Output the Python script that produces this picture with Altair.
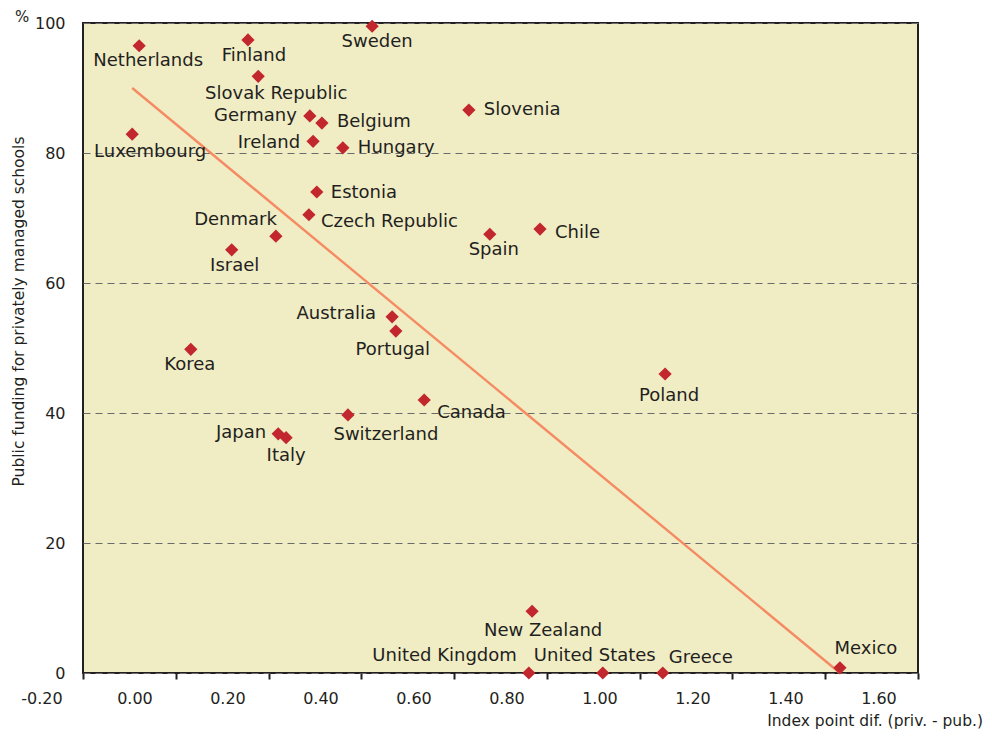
import altair as alt
import pandas as pd

# ---- data ----
countries = ["Netherlands", "Finland", "Sweden", "Slovak Republic", "Germany", "Belgium",
             "Slovenia", "Luxembourg", "Ireland", "Hungary", "Estonia", "Czech Republic",
             "Denmark", "Israel", "Spain", "Chile", "Australia", "Portugal", "Korea",
             "Canada", "Switzerland", "Japan", "Italy", "Poland", "New Zealand",
             "United Kingdom", "United States", "Greece", "Mexico"]
index_diff = [0.009, 0.243, 0.510, 0.265, 0.376, 0.402,
              0.718, -0.006, 0.383, 0.447, 0.391, 0.374,
              0.303, 0.208, 0.763, 0.871, 0.553, 0.561, 0.120,
              0.622, 0.458, 0.308, 0.325, 1.140, 0.854,
              0.847, 1.006, 1.135, 1.516]
public_funding = [96.5, 97.4, 99.5, 91.8, 85.7, 84.6,
                  86.6, 82.9, 81.8, 80.8, 74.0, 70.5,
                  67.2, 65.1, 67.5, 68.3, 54.8, 52.6, 49.8,
                  42.0, 39.7, 36.8, 36.2, 46.0, 9.5,
                  0.0, 0.0, 0.0, 0.8]

trend_x = [-0.006, 1.516]
trend_y = [90.0, 0.0]

x_tick_labels = [-0.2, 0.0, 0.2, 0.4, 0.6, 0.8, 1.0, 1.2, 1.4, 1.6]
y_tick_values = [0, 20, 40, 60, 80, 100]

# label placement (style): align, dx, dy in pixels relative to the marker
label_style = {
    "Netherlands": ("center", 9, 15), "Finland": ("center", 6, 16),
    "Sweden": ("center", 5, 16), "Slovak Republic": ("center", 18, 18),
    "Germany": ("right", -13, 0), "Belgium": ("left", 15, -1),
    "Slovenia": ("left", 15, 0), "Luxembourg": ("center", 18, 18),
    "Ireland": ("right", -13, 2), "Hungary": ("left", 15, 0),
    "Estonia": ("left", 14, 1), "Czech Republic": ("left", 12, 7),
    "Denmark": ("right", 1, -16), "Israel": ("center", 3, 16),
    "Spain": ("center", 4, 16), "Chile": ("left", 15, 4),
    "Australia": ("right", -16, -3), "Portugal": ("center", -3, 19),
    "Korea": ("center", -1, 16), "Canada": ("left", 13, 13),
    "Switzerland": ("center", 38, 20), "Japan": ("right", -12, -1),
    "Italy": ("center", 0, 18), "Poland": ("center", 4, 22),
    "New Zealand": ("center", 11, 20), "United Kingdom": ("right", -12, -17),
    "United States": ("center", -8, -17), "Greece": ("left", 6, -15),
    "Mexico": ("center", 26, -19),
}

FONT = "DejaVu Sans"
TXT = "#231f20"
FS = 18
TICK_FS = 16
TITLE_FS = 15.5
W, H = 835, 650
X_DOMAIN = [-0.1118, 1.6839]
step = (X_DOMAIN[1] - X_DOMAIN[0]) / 9
x_tick_positions = [X_DOMAIN[0] + k * step for k in range(10)]

df = pd.DataFrame({"country": countries, "x": index_diff, "y": public_funding})
trend = pd.DataFrame({"x": trend_x, "y": trend_y})
xlab = pd.DataFrame({"v": x_tick_labels,
                     "t": [f"{v:.2f}" for v in x_tick_labels]})
one = pd.DataFrame({"k": [0]})

xscale = alt.Scale(domain=X_DOMAIN, nice=False, zero=False)
yscale = alt.Scale(domain=[0, 100], nice=False)

xaxis = alt.Axis(values=x_tick_positions, labels=False, ticks=True, tickSize=6,
                 tickColor=TXT, tickWidth=2, domain=False, grid=False, title=None)
yaxis = alt.Axis(values=y_tick_values, ticks=False, domain=False, labelFont=FONT,
                 labelFontSize=TICK_FS, labelColor=TXT, labelPadding=18, grid=True,
                 gridDash=[7, 5], gridColor="#6b6b6b", gridWidth=1,
                 title="Public funding for privately managed schools",
                 titleFont=FONT, titleFontSize=TITLE_FS, titleFontWeight="normal",
                 titleColor=TXT, titleX=-65, titleY=288, titleAngle=270,
                 titleAlign="center", titleBaseline="middle")

base = alt.Chart(df)

line = alt.Chart(trend).mark_line(color="#f58b62", strokeWidth=2.4).encode(
    x=alt.X("x:Q", scale=xscale, axis=xaxis),
    y=alt.Y("y:Q", scale=yscale, axis=yaxis),
)

points = base.mark_point(shape="diamond", filled=True, size=175, color="#c1272d",
                         opacity=1).encode(
    x=alt.X("x:Q", scale=xscale),
    y=alt.Y("y:Q", scale=yscale),
)

label_layers = []
for c in countries:
    a, dx, dy = label_style[c]
    label_layers.append(
        base.transform_filter(alt.datum.country == c).mark_text(
            align=a, baseline="middle", dx=dx, dy=dy, font=FONT, fontSize=FS,
            color=TXT).encode(x="x:Q", y="y:Q", text="country:N")
    )

xlabels = alt.Chart(xlab).mark_text(baseline="middle", font=FONT, fontSize=TICK_FS,
                                    color=TXT).encode(
    x=alt.X("v:Q", scale=xscale), y=alt.value(H + 26), text="t:N")

xtitle = alt.Chart(one).mark_text(align="right", baseline="middle", font=FONT,
                                  fontSize=TITLE_FS, color=TXT).encode(
    x=alt.value(900), y=alt.value(H + 48),
    text=alt.value("Index point dif. (priv. - pub.)"))

pct = alt.Chart(one).mark_text(align="center", baseline="middle", font=FONT,
                               fontSize=15, color=TXT).encode(
    x=alt.value(-61), y=alt.value(-6), text=alt.value("%"))

chart = alt.layer(line, points, *label_layers, xlabels, xtitle, pct).properties(
    width=W, height=H,
    background="white",
    autosize=alt.AutoSizeParams(type="none"),
    padding={"left": 75, "top": 15, "right": 66, "bottom": 58},
).configure_view(
    fill="#f0ecc4", stroke=TXT, strokeWidth=2
)

chart.save("out.html", embed_options={"renderer": "svg", "actions": False})
